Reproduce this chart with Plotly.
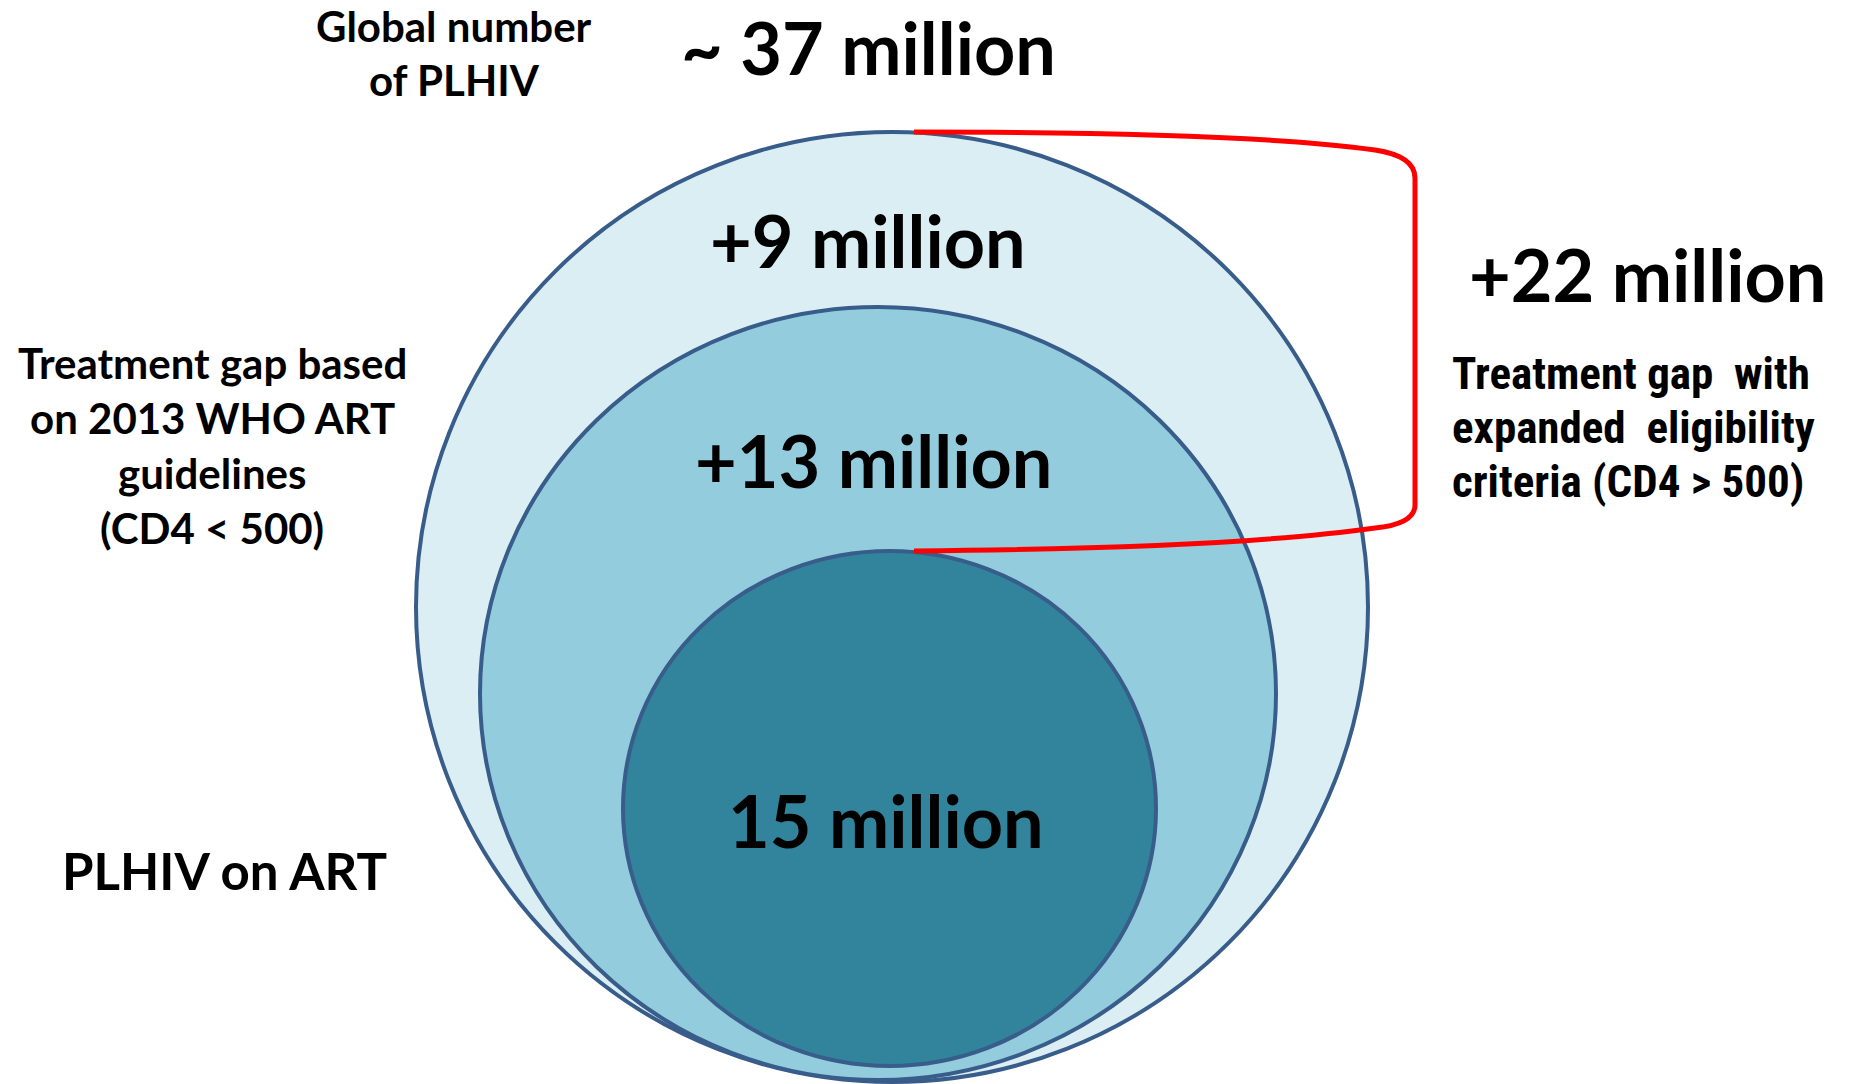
import plotly.graph_objects as go

# --- data (millions of people living with HIV) ---
total_plhiv = 37
on_art = 15
gap_cd4_below_500 = 13
gap_cd4_above_500 = 9
gap_expanded = gap_cd4_below_500 + gap_cd4_above_500  # 22

title_lines = ["Global number", "of PLHIV"]
left_gap_lines = ["Treatment gap based", "on 2013 WHO ART", "guidelines", "(CD4 < 500)"]
right_gap_lines = ["Treatment gap  with", "expanded  eligibility", "criteria (CD4 > 500)"]
on_art_label = "PLHIV on ART"

W, H = 1849, 1084
BIG_FONT = "Lato, Carlito, Calibri, 'Open Sans', sans-serif"
NARROW_FONT = "'Liberation Sans Narrow', 'Arial Narrow', 'Roboto Condensed', 'Liberation Sans', sans-serif"
EDGE = "#385D8A"

fig = go.Figure()

# nested ellipses: (x0, y0, x1, y1, fill)
ellipses = [
    (416, 132, 1368, 1082, "#DBEEF4"),
    (480, 307, 1276, 1080, "#93CDDD"),
    (623, 551, 1156, 1066, "#31849B"),
]
for x0, y0, x1, y1, fill in ellipses:
    fig.add_shape(type="circle", xref="x", yref="y", x0=x0, y0=y0, x1=x1, y1=y1,
                  fillcolor=fill, line=dict(color=EDGE, width=4), layer="above")

# red bracket grouping the two treatment gaps
bracket = ("M 914,132 C 1150,132 1290,138 1375,150 Q 1415,156 1415,178 "
           "L 1415,505 Q 1415,524 1375,528 C 1290,540 1150,549 914,551")
fig.add_shape(type="path", path=bracket, xref="x", yref="y",
              line=dict(color="#FF0000", width=5), layer="above")


def label(text, x, y, size, family=BIG_FONT, xanchor="center"):
    fig.add_annotation(x=x, y=y, xref="x", yref="y", text="<b>%s</b>" % text,
                       showarrow=False, xanchor=xanchor, yanchor="middle",
                       font=dict(family=family, size=size, color="#000000"))


# big value labels
label("~ %d million" % total_plhiv, 868, 47, 72)
label("+%d million" % gap_cd4_above_500, 868, 240, 72)
label("+%d million" % gap_cd4_below_500, 873, 460, 72)
label("%d million" % on_art, 886, 820, 72)
label("+%d million" % gap_expanded, 1647, 274, 72)

# descriptive labels
for i, t in enumerate(title_lines):
    label(t, 454, 26 + 54 * i, 42)
for i, t in enumerate(left_gap_lines):
    label(t, 212, 363 + 55 * i, 42)
for i, t in enumerate(right_gap_lines):
    label(t, 1450, 373 + 54 * i, 45, family=NARROW_FONT, xanchor="left")
label(on_art_label, 224, 870, 51)

fig.update_xaxes(range=[0, W], visible=False, fixedrange=True)
fig.update_yaxes(range=[H, 0], visible=False, fixedrange=True)
fig.update_layout(width=W, height=H, margin=dict(l=0, r=0, t=0, b=0),
                  paper_bgcolor="white", plot_bgcolor="white", showlegend=False)

fig.write_html("out.html")
